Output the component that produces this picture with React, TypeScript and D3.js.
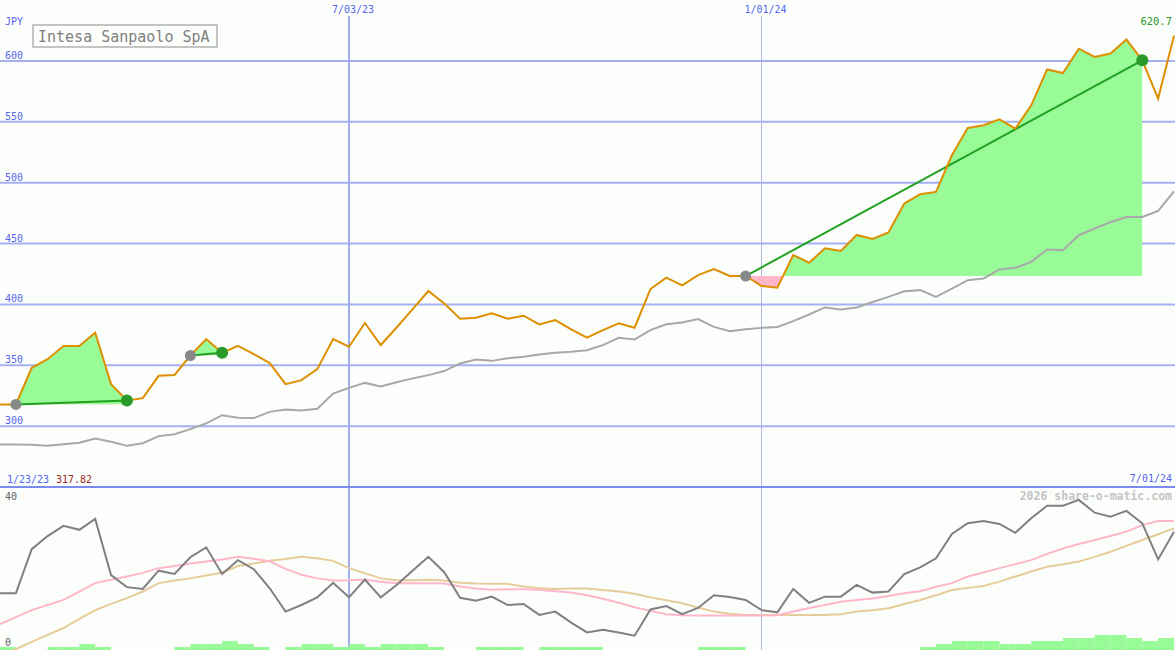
import React from 'react';
import * as d3 from 'd3';

// weekly sample dates (Mondays), 1/30/23 .. 7/01/24
const dates: Date[] = d3.timeMonday.range(new Date(2023, 0, 30), new Date(2024, 6, 2));

const price = [
  317.82, 317.8, 347.9, 355, 365.8, 365.8, 376.7, 334.5, 321, 323,
  341.3, 341.9, 358, 371.5, 360.2, 366, 359.2, 351.8, 334.5, 337.8,
  346.8, 371.5, 365.2, 384.7, 366.6, 381, 395.9, 411, 400.8, 388.2,
  389, 392.6, 388.2, 390.7, 383.6, 387.1, 379.5, 372.6, 378.9, 384.4,
  380.8, 412.6, 421.9, 415.6, 424, 429, 423.3, 423.3, 415.1, 413.7,
  440.5, 434.2, 446, 443.8, 457, 453.7, 459, 482.8, 490.5, 492.4,
  522.5, 544.9, 547.1, 552, 544.4, 563.5, 592.9, 590, 610, 603.2,
  606, 617.5, 600.5, 569, 620.7,
];

const movingAvg = [
  285, 285, 284.8, 283.8, 285.2, 286.3, 289.9, 287.1, 283.8, 286,
  291.8, 293.4, 297.5, 302.2, 309, 306.8, 306.6, 311.7, 313.7, 312.9,
  314.2, 326.8, 331.4, 335.5, 332.5, 336, 339.2, 341.9, 345.2, 351.5,
  354.8, 353.6, 355.8, 356.9, 358.9, 360.2, 361, 362.4, 366.5, 372.5,
  371.2, 378.8, 383.7, 385.1, 388, 381.5, 378, 379.6, 380.7, 381.5,
  386.2, 391.7, 397.5, 395.8, 397.5, 402, 406.2, 410.8, 411.7, 406.2,
  413, 419.9, 421.3, 428.7, 430, 434.9, 445.1, 444.5, 456.8, 462.3,
  467.5, 471.8, 471.8, 476.8, 492.9,
];

const oscillator = [
  14.7, 14.7, 26.8, 30.4, 33.2, 32.1, 35.1, 19.7, 16.4, 15.9,
  20.9, 20, 24.6, 27.3, 20, 23.8, 21.3, 16.1, 9.7, 11.5,
  13.6, 17.6, 13.6, 18.5, 13.6, 17, 20.9, 24.7, 20.5, 13.5,
  12.7, 13.8, 11.5, 11.8, 8.8, 9.7, 6.7, 4, 4.7, 4,
  3.1, 10.3, 11.2, 9, 10.7, 14.2, 13.7, 12.9, 10.1, 9.5,
  15.9, 12.1, 13.8, 13.8, 17, 14.9, 15.2, 20, 21.8, 24.3,
  31, 33.9, 34.5, 33.7, 31.3, 35.3, 38.7, 38.7, 40.3, 36.8,
  35.7, 37.3, 33.9, 24, 31.6,
];

const oscFast = [
  6.3, 8.2, 10.1, 11.5, 12.9, 15.2, 17.5, 18.4, 19.3, 20.3,
  21.6, 22.2, 22.9, 23.4, 24, 24.7, 24.2, 23.5, 21.4, 19.8,
  18.8, 18.2, 18.3, 18.5, 17.9, 17.5, 17.5, 17.5, 17.4, 16.6,
  16, 15.7, 15.8, 15.8, 15.7, 15.3, 14.9, 14.2, 13.2, 12.1,
  10.9, 9.9, 9, 8.7, 8.6, 8.6, 8.6, 8.6, 8.6, 8.7,
  9.7, 10.7, 11.5, 12.4, 12.9, 13.3, 14, 14.7, 15.3, 16.5,
  17.5, 19.3, 20.4, 21.6, 22.7, 23.8, 25.5, 27, 28.2, 29.3,
  30.4, 31.6, 33.4, 34.5, 34.5,
];

const oscSlow = [
  -2, -0.6, 1.4, 3.3, 5.2, 7.7, 10.1, 11.8, 13.4, 15.2,
  17.5, 18.2, 18.8, 19.6, 20.4, 22.2, 22.9, 23.6, 24.1, 24.7,
  24.3, 23.6, 21.6, 20.2, 18.8, 18.3, 18.3, 18.4, 18.2, 17.6,
  17.4, 17.3, 17.3, 16.6, 16.1, 15.9, 16, 16, 15.6, 15.2,
  14.6, 13.6, 12.8, 12, 10.8, 9.7, 9.1, 8.8, 8.8, 8.8,
  8.8, 8.8, 8.8, 9, 9.7, 10.1, 10.6, 11.8, 12.9, 14.2,
  15.6, 16.2, 16.7, 17.9, 19.3, 20.7, 22, 22.7, 23.4, 24.7,
  26.1, 27.7, 29.3, 30.9, 32.5,
];

// weekly volume level, one per interval between consecutive dates
const volume = [
  1, 0, 0, 1, 1, 2, 1, 0, 0, 0,
  0, 1, 2, 2, 3, 2, 1, 0, 1, 2,
  2, 1, 2, 1, 2, 2, 2, 1, 0, 0,
  1, 1, 1, 0, 1, 1, 1, 1, 0, 0,
  0, 0, 0, 0, 1, 1, 1, 0, 0, 0,
  0, 0, 0, 0, 0, 0, 0, 0, 1, 2,
  3, 3, 3, 2, 2, 3, 3, 4, 4, 5,
  5, 4, 3, 4,
];

const tradeEntry = [1, 12, 47];
const tradeExit = [8, 14, 72];

const priceTicks = [300, 350, 400, 450, 500, 550, 600];
const dateMarks = [new Date(2023, 6, 3), new Date(2024, 0, 1)];
const dateMarkLabels = ['7/03/23', '1/01/24'];
const startLabel = '1/23/23';
const endLabel = '7/01/24';
const title = 'Intesa Sanpaolo SpA';
const currency = 'JPY';
const oscTicks = [40, 0];

const FONT = '"DejaVu Sans Mono", "Liberation Mono", monospace';

export default function App() {
  const W = 1175;
  const H = 650;
  const x = d3.scaleTime().domain([dates[0], dates[dates.length - 1]]).range([0, 1174]);
  const y = d3.scaleLinear().domain([250, 650]).range([487, 0]);
  const yo = d3.scaleLinear().domain([0, 40]).range([647, 501]);
  const yv = d3.scaleLinear().domain([0, 5]).range([650, 635]);

  const mkLine = (sc: d3.ScaleLinear<number, number>, arr: number[]) =>
    d3.line<number>().x((_, i) => x(dates[i])).y((v) => sc(v))(arr) || '';

  const trades = tradeEntry.map((e, t) => {
    const xi = tradeExit[t];
    const idx = d3.range(e, xi + 1);
    const base = price[e];
    const area = d3
      .area<number>()
      .x((i) => x(dates[i]))
      .y0(y(base))
      .y1((i) => y(price[i]))(idx) || '';
    return { e, xi, base, area, by: y(base), x0: x(dates[e]), x1: x(dates[xi]) };
  });

  const lastX = x(dates[dates.length - 1]);

  return (
    <svg
      width={W}
      height={H}
      style={{ position: 'absolute', left: 0, top: 0, background: '#fcfefc' }}
      fontFamily={FONT}
    >
      <rect x={0} y={0} width={W} height={H} fill="#fcfefc" />
      <defs>
        {trades.map((t, i) => (
          <React.Fragment key={i}>
            <clipPath id={`up${i}`}>
              <rect x={t.x0} y={0} width={t.x1 - t.x0} height={t.by} />
            </clipPath>
            <clipPath id={`dn${i}`}>
              <rect x={t.x0} y={t.by} width={t.x1 - t.x0} height={487 - t.by} />
            </clipPath>
          </React.Fragment>
        ))}
        <clipPath id="lowerClip">
          <rect x={0} y={489} width={W} height={H - 489} />
        </clipPath>
      </defs>

      {/* horizontal price grid */}
      {priceTicks.map((v) => (
        <g key={v}>
          <line x1={0} x2={W} y1={y(v)} y2={y(v)} stroke="#a4b0f2" strokeWidth={2} />
          <text x={5} y={y(v) - 2} fontSize={10} fill="#5566ee">
            {v}
          </text>
        </g>
      ))}
      <text x={5} y={25} fontSize={10} fill="#5566ee">
        {currency}
      </text>

      {/* vertical date marks */}
      {dateMarks.map((d, i) => (
        <g key={i}>
          <line
            x1={x(d)}
            x2={x(d)}
            y1={16}
            y2={H}
            stroke={i === 0 ? '#a0acf2' : '#b0b4e0'}
            strokeWidth={i === 0 ? 2 : 1}
          />
          <text x={x(d) + 4} y={13} fontSize={10} fill="#5566ee" textAnchor="middle">
            {dateMarkLabels[i]}
          </text>
        </g>
      ))}

      {/* panel divider */}
      <line x1={0} x2={W} y1={y(250)} y2={y(250)} stroke="#7b8bef" strokeWidth={2} />

      {/* trade fills */}
      {trades.map((t, i) => (
        <g key={i}>
          <path d={t.area} fill="#98fb98" clipPath={`url(#up${i})`} />
          <path d={t.area} fill="#ffb6c8" clipPath={`url(#dn${i})`} />
        </g>
      ))}

      {/* moving average */}
      <path d={mkLine(y, movingAvg)} fill="none" stroke="#a8a8a8" strokeWidth={2} />

      {/* trade lines */}
      {trades.map((t, i) => (
        <line
          key={i}
          x1={t.x0}
          y1={t.by}
          x2={t.x1}
          y2={y(price[t.xi])}
          stroke="#22a022"
          strokeWidth={2}
        />
      ))}

      {/* price */}
      <path d={mkLine(y, price)} fill="none" stroke="#dd8f00" strokeWidth={2} />

      {/* trade markers */}
      {trades.map((t, i) => (
        <g key={i}>
          <circle cx={t.x0} cy={t.by} r={5.5} fill="#888888" />
          <circle cx={t.x1} cy={y(price[t.xi])} r={6} fill="#2a9a2a" />
        </g>
      ))}

      {/* title box */}
      <rect x={33} y={25} width={184} height={22} fill="#fcfefc" stroke="#c4c4c4" strokeWidth={2} />
      <text x={38} y={41.5} fontSize={15} fill="#808080">
        {title}
      </text>

      <text x={1172} y={25} fontSize={10.5} fill="#2a9a2a" textAnchor="end">
        {price[price.length - 1].toFixed(1)}
      </text>

      <text x={7} y={483} fontSize={10} fill="#5566ee">
        {startLabel}
      </text>
      <text x={56} y={483} fontSize={10} fill="#a02828">
        {price[0].toFixed(2)}
      </text>
      <text x={1172} y={482} fontSize={10} fill="#5566ee" textAnchor="end">
        {endLabel}
      </text>

      {/* lower panel */}
      {oscTicks.map((v) => (
        <text key={v} x={5} y={v === 0 ? 646 : 500} fontSize={10} fill="#606060">
          {v}
        </text>
      ))}
      <text x={1172} y={500} fontSize={11.5} fontWeight="bold" fill="#c4c4c4" textAnchor="end">
        2026 share-o-matic.com
      </text>

      {volume.map((v, i) =>
        v > 0 ? (
          <rect
            key={i}
            x={x(dates[i])}
            y={yv(v)}
            width={x(dates[i + 1]) - x(dates[i])}
            height={yv(0) - yv(v)}
            fill="#98fb98"
          />
        ) : null
      )}

      <g clipPath="url(#lowerClip)">
        <path d={mkLine(yo, oscSlow)} fill="none" stroke="#e6cc98" strokeWidth={2} />
        <path d={mkLine(yo, oscFast)} fill="none" stroke="#ffb6c8" strokeWidth={2} />
        <path d={mkLine(yo, oscillator)} fill="none" stroke="#808080" strokeWidth={2} />
      </g>
    </svg>
  );
}
